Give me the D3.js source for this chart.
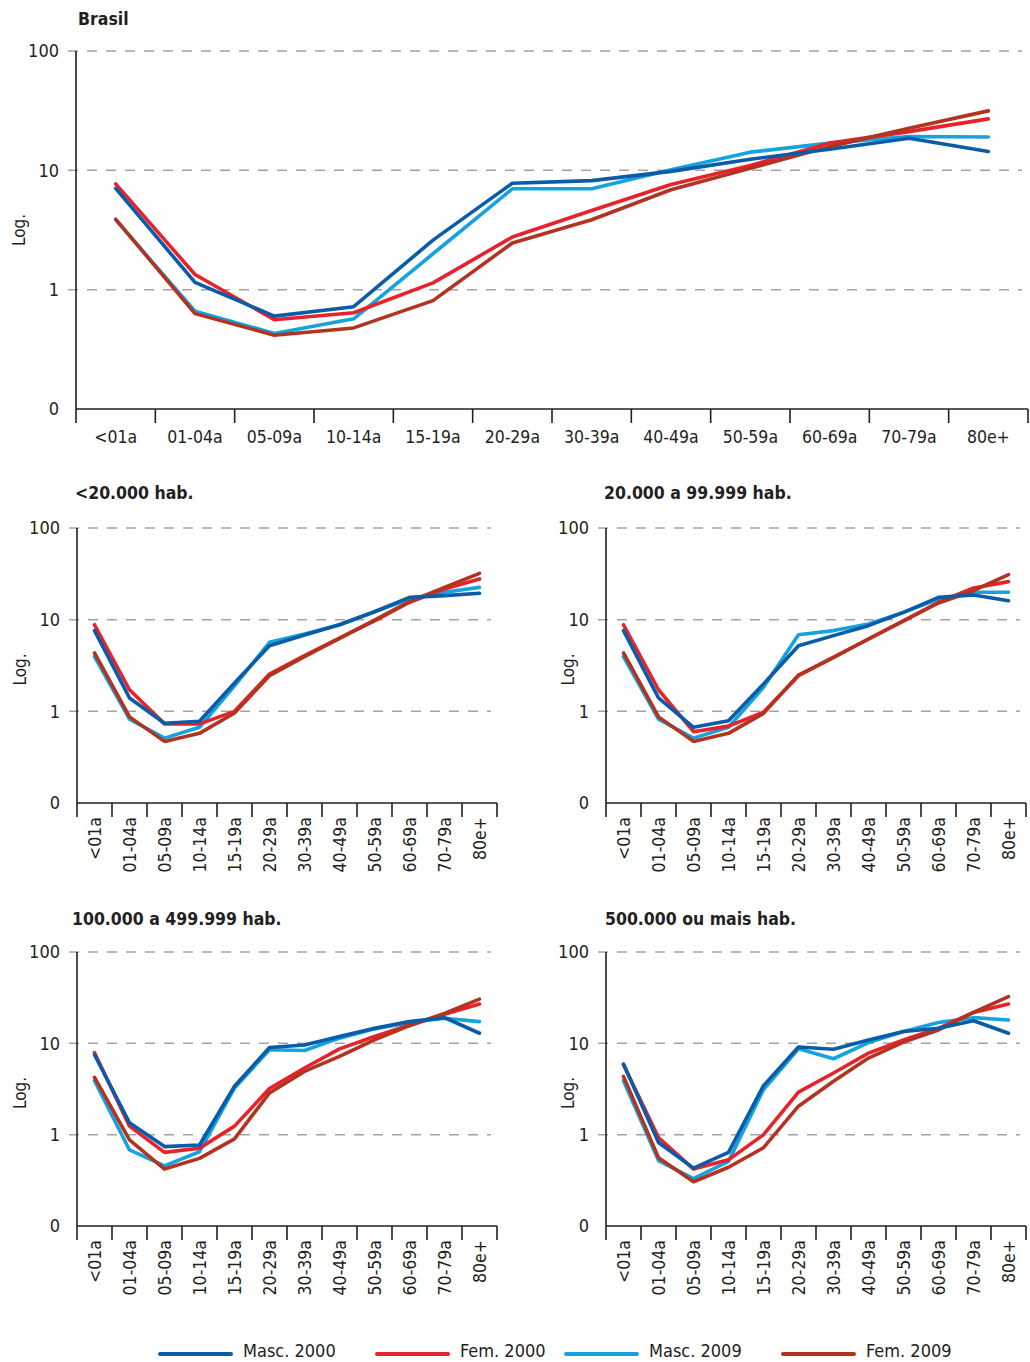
<!DOCTYPE html>
<html>
<head>
<meta charset="utf-8">
<script src="https://cdn.jsdelivr.net/npm/d3@7"></script>
<style>
  html, body { margin: 0; padding: 0; background: #fff; }
  svg { display: block; }
  text { font-family: "DejaVu Sans Condensed", "DejaVu Sans", sans-serif; font-stretch: condensed; fill: #231f20; }
  .title { font-weight: bold; font-size: 17.5px; }
</style>
</head>
<body>
<script>
// Age groups on the horizontal axis
const ageGroups = ["<01a", "01-04a", "05-09a", "10-14a", "15-19a", "20-29a",
                   "30-39a", "40-49a", "50-59a", "60-69a", "70-79a", "80e+"];

// Log axis ticks and their printed labels
const yTickValues = [0.1, 1, 10, 100];
const yTickLabels = ["0", "1", "10", "100"];

// Series names and colours
const seriesNames  = ["Masc. 2000", "Fem. 2000", "Masc. 2009", "Fem. 2009"];
const seriesColors = ["#0a5ca8", "#e8222b", "#15a3df", "#b2331f"];

// Panel titles
const panelTitles = ["Brasil", "<20.000 hab.", "20.000 a 99.999 hab.",
                     "100.000 a 499.999 hab.", "500.000 ou mais hab."];

// Brasil
const brasilMasc2000 = [7.05, 1.15, 0.60, 0.72, 2.6, 7.8, 8.2, 9.8, 12.4, 15.0, 18.6, 14.4];
const brasilFem2000  = [7.7, 1.34, 0.56, 0.64, 1.14, 2.76, 4.6, 7.6, 11.0, 16.9, 21.1, 27.0];
const brasilMasc2009 = [3.85, 0.66, 0.43, 0.57, 2.0, 7.0, 7.0, 10.1, 14.2, 16.9, 19.2, 19.0];
const brasilFem2009  = [3.9, 0.63, 0.415, 0.478, 0.81, 2.46, 3.85, 6.87, 10.4, 15.8, 22.5, 31.5];

// < 20.000 hab.
const p20kMasc2000 = [7.6, 1.4, 0.74, 0.78, 2.04, 5.2, 6.8, 8.8, 12.2, 17.5, 18.3, 19.4];
const p20kFem2000  = [8.8, 1.72, 0.73, 0.73, 1.0, 2.55, 4.05, 6.3, 9.7, 15.5, 21.6, 27.8];
const p20kMasc2009 = [3.95, 0.82, 0.51, 0.67, 1.9, 5.66, 6.98, 8.8, 12.2, 16.8, 19.9, 22.5];
const p20kFem2009  = [4.33, 0.87, 0.47, 0.575, 0.96, 2.45, 3.95, 6.25, 9.9, 15.7, 22.5, 32.0];

// 20.000 a 99.999 hab.
const p100kMasc2000 = [7.6, 1.4, 0.67, 0.79, 1.99, 5.2, 6.7, 8.6, 12.0, 17.5, 18.6, 16.1];
const p100kFem2000  = [8.8, 1.72, 0.60, 0.69, 0.98, 2.45, 3.88, 6.15, 9.7, 15.5, 22.2, 26.0];
const p100kMasc2009 = [3.95, 0.82, 0.51, 0.67, 1.83, 6.86, 7.6, 8.97, 12.0, 16.8, 19.9, 19.9];
const p100kFem2009  = [4.33, 0.87, 0.47, 0.575, 0.95, 2.49, 3.88, 6.15, 9.7, 15.2, 20.7, 31.0];

// 100.000 a 499.999 hab.
const p500kMasc2000 = [7.5, 1.35, 0.74, 0.77, 3.39, 9.0, 9.6, 11.9, 14.6, 17.3, 19.1, 12.9];
const p500kFem2000  = [7.9, 1.24, 0.64, 0.71, 1.24, 3.2, 5.37, 8.7, 11.9, 15.9, 20.8, 26.9];
const p500kMasc2009 = [3.9, 0.68, 0.456, 0.65, 3.25, 8.5, 8.36, 11.4, 14.4, 16.9, 18.8, 17.3];
const p500kFem2009  = [4.25, 0.875, 0.42, 0.55, 0.9, 2.87, 4.93, 7.2, 10.9, 15.6, 21.3, 30.5];

// 500.000 ou mais hab.
const pBigMasc2000 = [5.93, 0.82, 0.43, 0.64, 3.44, 9.1, 8.6, 10.9, 13.5, 14.6, 17.7, 12.9];
const pBigFem2000  = [5.83, 0.93, 0.42, 0.53, 1.0, 2.92, 4.73, 7.8, 10.9, 14.6, 21.8, 26.9];
const pBigMasc2009 = [3.9, 0.52, 0.33, 0.51, 3.12, 8.7, 6.78, 10.2, 13.5, 16.9, 19.1, 18.0];
const pBigFem2009  = [4.35, 0.56, 0.305, 0.44, 0.72, 2.05, 3.84, 6.9, 10.3, 14.0, 21.8, 32.4];

const panelSeries = [
  [brasilMasc2000, brasilFem2000, brasilMasc2009, brasilFem2009],
  [p20kMasc2000, p20kFem2000, p20kMasc2009, p20kFem2009],
  [p100kMasc2000, p100kFem2000, p100kMasc2009, p100kFem2009],
  [p500kMasc2000, p500kFem2000, p500kMasc2009, p500kFem2009],
  [pBigMasc2000, pBigFem2000, pBigMasc2009, pBigFem2009]
];

// Panel geometry
const layout = [
  { x0: 76,  x1: 1028, yTop: 51,  yBot: 409,  titleX: 78,  titleY: 25,  rotate: false, logX: 19 },
  { x0: 77,  x1: 497,  yTop: 528, yBot: 803,  titleX: 75,  titleY: 499, rotate: true,  logX: 20 },
  { x0: 606, x1: 1026, yTop: 528, yBot: 803,  titleX: 604, titleY: 499, rotate: true,  logX: 568 },
  { x0: 77,  x1: 497,  yTop: 952, yBot: 1226, titleX: 72,  titleY: 925, rotate: true,  logX: 20 },
  { x0: 606, x1: 1026, yTop: 952, yBot: 1226, titleX: 605, titleY: 925, rotate: true,  logX: 568 }
];

// Drawing order: light blue, red, dark red, dark blue on top
const drawOrder = [2, 1, 3, 0];

const svg = d3.select("body").append("svg")
  .attr("width", 1030).attr("height", 1362);

layout.forEach((L, pi) => {
  const g = svg.append("g");
  const x = d3.scaleBand().domain(ageGroups).range([L.x0, L.x1]).padding(0);
  const y = d3.scaleLog().domain([0.1, 100]).range([L.yBot, L.yTop]);

  // dashed gridlines at 1, 10, 100
  g.selectAll("line.grid").data(yTickValues.slice(1)).join("line")
    .attr("x1", L.x0 - 8).attr("x2", L.x1 - 6)
    .attr("y1", d => y(d)).attr("y2", d => y(d))
    .attr("stroke", "#a3a3a3").attr("stroke-width", 1.5)
    .attr("stroke-dasharray", "10,9");

  // y tick labels
  g.selectAll("text.ytick").data(yTickValues).join("text")
    .attr("x", L.x0 - 17).attr("y", d => y(d))
    .attr("dy", "0.35em").attr("text-anchor", "end")
    .style("font-size", "18px")
    .text((d, i) => yTickLabels[i]);

  // axis lines
  g.append("line").attr("x1", L.x0).attr("x2", L.x0)
    .attr("y1", L.yTop).attr("y2", L.yBot)
    .attr("stroke", "#231f20").attr("stroke-width", 1.6);
  g.append("line").attr("x1", L.x0).attr("x2", L.x1)
    .attr("y1", L.yBot).attr("y2", L.yBot)
    .attr("stroke", "#231f20").attr("stroke-width", 1.6);

  // boundary tick marks on x axis
  const bounds = ageGroups.map(a => x(a)).concat([L.x1]);
  g.selectAll("line.xtick").data(bounds).join("line")
    .attr("x1", d => d).attr("x2", d => d)
    .attr("y1", L.yBot).attr("y2", L.yBot + 14)
    .attr("stroke", "#231f20").attr("stroke-width", 1.6);

  // x labels via band axis (ticks at centres, no tick marks)
  const ax = g.append("g").attr("transform", `translate(0,${L.yBot})`)
    .call(d3.axisBottom(x).tickSize(0).tickPadding(0));
  ax.attr("font-family", null).attr("font-size", null);
  ax.select(".domain").remove();
  if (!L.rotate) {
    ax.selectAll("text").attr("y", 28).attr("dy", "0.35em")
      .style("font-size", "17.5px").attr("fill", null);
  } else {
    ax.selectAll("text")
      .attr("transform", "rotate(-90)")
      .attr("x", -14).attr("y", 0).attr("dy", "0.35em")
      .attr("text-anchor", "end")
      .style("font-size", "17.5px").attr("fill", null);
  }

  // "Log." axis label
  const midY = y(Math.sqrt(1 * 10)) + (L.rotate ? 4 : 0);
  g.append("text")
    .attr("transform", `translate(${L.logX},${midY}) rotate(-90)`)
    .attr("text-anchor", "middle").attr("dy", "0.35em")
    .style("font-size", "17px").text("Log.");

  // title
  g.append("text").attr("class", "title")
    .attr("x", L.titleX).attr("y", L.titleY).text(panelTitles[pi]);

  // series lines
  const line = d3.line()
    .x((d, i) => x(ageGroups[i]) + x.bandwidth() / 2)
    .y(d => y(d));
  drawOrder.forEach(si => {
    g.append("path").datum(panelSeries[pi][si])
      .attr("d", line)
      .attr("fill", "none")
      .attr("stroke", seriesColors[si])
      .attr("stroke-width", 3.6)
      .attr("stroke-linejoin", "round")
      .attr("stroke-linecap", "round");
  });
});

// Legend
const legendX = [160, 377, 566, 783];
const legend = svg.append("g");
seriesNames.forEach((name, i) => {
  legend.append("line")
    .attr("x1", legendX[i]).attr("x2", legendX[i] + 71)
    .attr("y1", 1354).attr("y2", 1354)
    .attr("stroke", seriesColors[i]).attr("stroke-width", 4)
    .attr("stroke-linecap", "round");
  legend.append("text")
    .attr("x", legendX[i] + 83).attr("y", 1351)
    .attr("dy", "0.35em").style("font-size", "18px")
    .text(name);
});
</script>
</body>
</html>
